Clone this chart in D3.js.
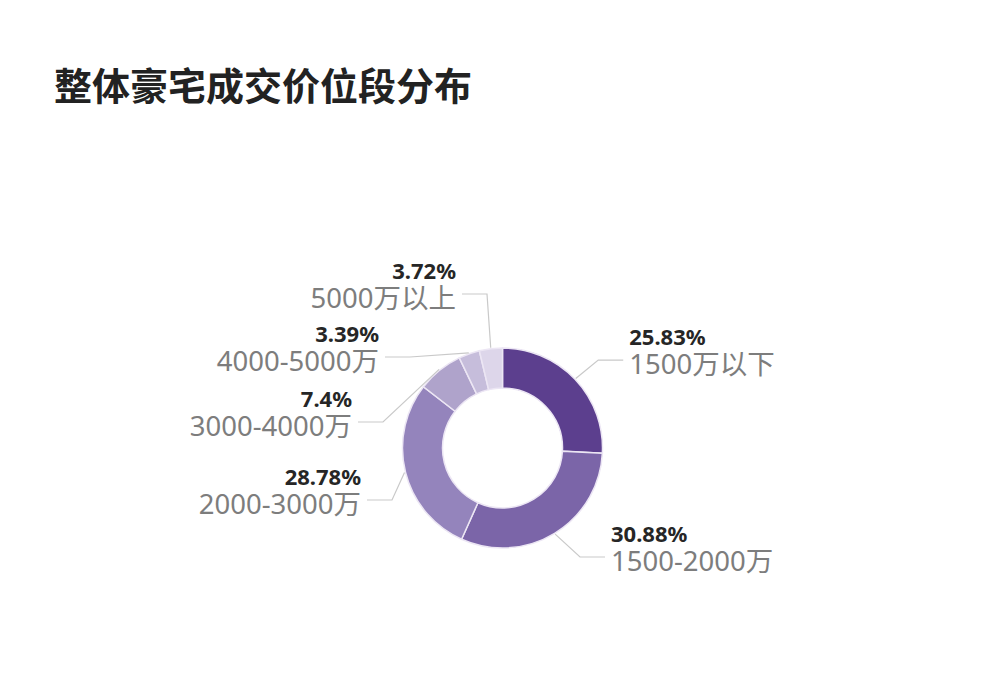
<!DOCTYPE html>
<html><head><meta charset="utf-8">
<script src="https://cdn.jsdelivr.net/npm/d3@7"></script>
<style>
html,body{margin:0;padding:0;background:#fff;}
svg{display:block;}
</style></head>
<body>
<svg id="chart" width="1000" height="673"></svg>
<script>
// ---- data ----
const title = "整体豪宅成交价位段分布";
const categories = ["1500万以下", "1500-2000万", "2000-3000万", "3000-4000万", "4000-5000万", "5000万以上"];
const values = [25.83, 30.88, 28.78, 7.4, 3.39, 3.72];
const valueLabels = ["25.83%", "30.88%", "28.78%", "7.4%", "3.39%", "3.72%"];
const colors = ["#5c3f8e", "#7b65a8", "#9484bc", "#afa3cb", "#c6bddb", "#ddd6ea"];

// ---- layout (label elbow points after overlap avoidance) ----
const cx = 502.5, cy = 448, rOuter = 100, rInner = 60;
const labelElbows = [null, [580, 557], [392, 500], [383, 422], [410, 357], [487, 294]];
const elbowR = 132, len2 = 25, textGap = 6;

const svg = d3.select("#chart");
const font = "'Noto Sans','Noto Sans CJK SC',sans-serif";

svg.append("text").attr("x", 54).attr("y", 100)
  .attr("font-family", "'Noto Sans CJK SC','Noto Sans',sans-serif")
  .attr("font-weight", 700).attr("font-size", 38).attr("fill", "#222")
  .text(title);

const pie = d3.pie().sort(null).value(d => d);
const arcs = pie(values);
const arc = d3.arc().innerRadius(rInner).outerRadius(rOuter);
const g = svg.append("g").attr("transform", `translate(${cx},${cy})`);

g.selectAll("path").data(arcs).join("path")
  .attr("d", arc)
  .attr("fill", (d, i) => colors[i])
  .attr("stroke", "#ece6f4").attr("stroke-width", 1.5);

const lbl = svg.append("g");
arcs.forEach((d, i) => {
  const mid = (d.startAngle + d.endAngle) / 2;
  const sx = cx + (rOuter + 1) * Math.sin(mid), sy = cy - (rOuter + 1) * Math.cos(mid);
  const right = Math.sin(mid) > 0;
  let ex, ey;
  if (labelElbows[i]) { [ex, ey] = labelElbows[i]; }
  else { ex = cx + elbowR * Math.sin(mid); ey = cy - elbowR * Math.cos(mid) + 3; }
  const endX = right ? ex + len2 : ex - len2;
  lbl.append("polyline")
    .attr("points", [[sx, sy], [ex, ey], [endX, ey]].map(p => p.join(",")).join(" "))
    .attr("fill", "none").attr("stroke", "#c9c9c9").attr("stroke-width", 1.2);
  const tx = right ? endX + textGap : endX - textGap;
  const anchor = right ? "start" : "end";
  lbl.append("text").attr("x", tx).attr("y", ey - 15)
    .attr("text-anchor", anchor).attr("font-family", font)
    .attr("font-weight", 700).attr("font-size", 22).attr("fill", "#262626")
    .text(valueLabels[i]);
  lbl.append("text").attr("x", tx).attr("y", ey + 14)
    .attr("text-anchor", anchor).attr("font-family", font)
    .attr("font-size", 27.5).attr("fill", "#7d7d7d")
    .text(categories[i]);
});
</script>
</body></html>
